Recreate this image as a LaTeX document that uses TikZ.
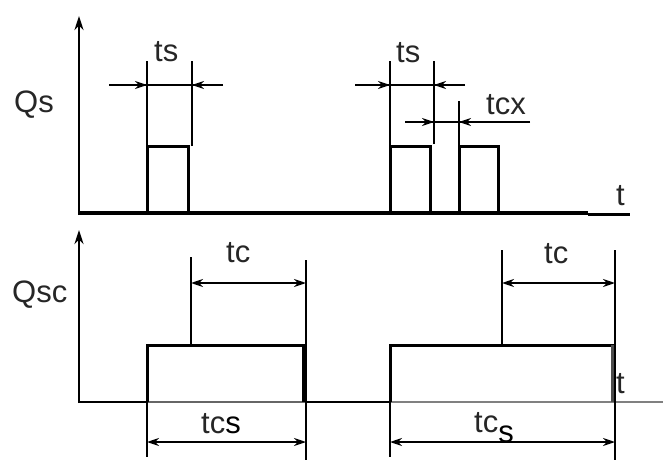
\documentclass[tikz,border=0pt]{standalone}
\usepackage{fontspec}
\setmainfont{Liberation Sans}
\usetikzlibrary{arrows.meta}
\begin{document}
\begin{tikzpicture}[x=1pt,y=-1pt,
  sig/.style={line width=3pt},
  ext/.style={line width=2.5pt},
  dim/.style={line width=2.2pt},
  tipin/.style={dim,-{Stealth[length=12pt,width=8pt]}},
  tipboth/.style={dim,{Stealth[length=12pt,width=8pt]}-{Stealth[length=12pt,width=8pt]}},
  axis/.style={line width=2.6pt,-{Stealth[length=14pt,width=9pt]}},
  lbl/.style={font=\fontsize{31}{33}\selectfont,inner sep=0pt,text=black!85,anchor=base west}]
\useasboundingbox (0,0) rectangle (668,468);
% ---- top panel ----
\coordinate (o1) at (79,215);
\coordinate (y1) at (79,16);
\draw[axis] (o1) -- (y1);
\draw[line width=4pt] (79,213) -- (588,213);
\draw[line width=2.2pt] (588,214.5) -- (630,214.5);
% pulses
\draw[sig] (147,213) -- (147,146) -- (188,146) -- (188,213);
\draw[sig] (390,213) -- (390,146) -- (430,146) -- (430,213);
\draw[sig] (459,213) -- (459,146) -- (498,146) -- (498,213);
% extension lines
\draw[ext] (147,146) -- (147,61);
\draw[ext] (192,146) -- (192,61);
\draw[ext] (390,146) -- (390,61);
\draw[ext] (434,144) -- (434,61);
\draw[ext] (459,146) -- (459,101);
% ts dimension 1
\coordinate (a1) at (109,85); \coordinate (a2) at (147,85);
\coordinate (a3) at (192,85); \coordinate (a4) at (223,85);
\draw[dim] (a1) -- (a4);
\draw[tipin] (a1) -- (a2);
\draw[tipin] (a4) -- (a3);
% ts dimension 2
\coordinate (b1) at (355,85); \coordinate (b2) at (390,85);
\coordinate (b3) at (434,85); \coordinate (b4) at (465,85);
\draw[dim] (b1) -- (b4);
\draw[tipin] (b1) -- (b2);
\draw[tipin] (b4) -- (b3);
% tcx dimension
\coordinate (c1) at (405,122); \coordinate (c2) at (434,122);
\coordinate (c3) at (459,122); \coordinate (c4) at (530,122);
\draw[dim] (c1) -- (c4);
\draw[tipin] (c1) -- (c2);
\draw[tipin] (c4) -- (c3);
\node[lbl] (ts1) at (154,62) {ts};
\node[lbl] (ts2) at (396,63) {ts};
\node[lbl] (tcx) at (486,114) {tcx};
\node[lbl] (qs) at (14,112) {Qs};
\node[lbl] (t1) at (616,205) {t};
% ---- bottom panel ----
\coordinate (o2) at (79,403);
\coordinate (y2) at (79,230);
\draw[axis] (o2) -- (y2);
\draw[line width=2.6pt] (79,402) -- (147,402);
\draw[line width=2.4pt,black!60] (147,402) -- (305,402);
\draw[line width=2.6pt] (305,402) -- (390,402);
\draw[line width=2.4pt,black!50] (390,402) -- (663,402);
% rectangles
\draw[sig] (147,402) -- (147,345) -- (305,345);
\draw[line width=4pt] (304,345) -- (304,402);
\draw[sig] (390,402) -- (390,345) -- (615,345);
\draw[line width=3.6pt,black!70] (613,345) -- (613,402);
% extension lines
\draw[ext] (191,345) -- (191,257);
\draw[ext] (306,260) -- (306,460);
\draw[ext] (147,402) -- (147,457);
\draw[ext] (502,345) -- (502,250);
\draw[ext] (615,250) -- (615,460);
\draw[ext] (390,402) -- (390,457);
% dimensions
\coordinate (d1) at (191,283); \coordinate (d2) at (306,283);
\draw[tipboth] (d1) -- (d2);
\coordinate (e1) at (147,442); \coordinate (e2) at (306,442);
\draw[tipboth] (e1) -- (e2);
\coordinate (f1) at (502,283); \coordinate (f2) at (615,283);
\draw[tipboth] (f1) -- (f2);
\coordinate (g1) at (390,442); \coordinate (g2) at (615,442);
\draw[tipboth] (g1) -- (g2);
\node[lbl] (tc1) at (226,262) {tc};
\node[lbl] (tc2) at (544,263) {tc};
\node[lbl] (tcs1) at (201,433) {tc\textcolor{black}{s}};
\node[lbl] (tcs2) at (474,432) {tc\raisebox{-10pt}{\textcolor{black}{s}}};
\node[lbl] (qsc) at (12,302) {Qsc};
\node[lbl] (t2) at (616,393) {t};
\end{tikzpicture}
\end{document}
